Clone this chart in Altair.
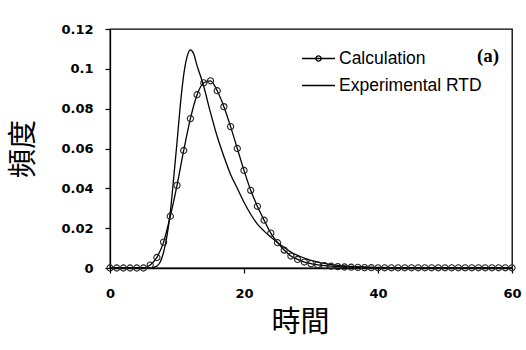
import altair as alt
import pandas as pd

# Calculation (markers every 1 time unit)
calc_t = list(range(0, 61))
calc_v = [0, 0, 0, 0, 0, 0, 0.0015, 0.0053, 0.013, 0.026, 0.0415, 0.059, 0.075, 0.087, 0.093, 0.094,
          0.089, 0.081, 0.071, 0.060, 0.049, 0.039, 0.031, 0.024, 0.0175, 0.0127, 0.009, 0.006, 0.0043,
          0.003, 0.0022, 0.0016, 0.0012, 0.0009, 0.0007, 0.0005, 0.0004, 0.0003, 0.0002, 0.00015,
          0.0001, 0.0001, 0.0001, 0.0001, 0.0001, 0.0001, 0.0001, 0.0001, 0.0001, 0.0001, 0.0001,
          0.0001, 0.0001, 0.0001, 0.0001, 0.0001, 0.0001, 0.0001, 0.0001, 0.0001, 0.0001]

# Experimental RTD (smooth curve)
exp_t = [0, 6, 6.5, 7, 7.5, 8, 8.5, 9, 9.5, 10, 10.5, 11, 11.5, 12, 12.5, 13, 13.5, 14, 15, 16, 17,
         18, 19, 20, 21, 22, 23, 24, 25, 26, 27, 28, 29, 30, 31, 32, 33, 34, 35, 36, 38, 40, 45, 50, 60]
exp_v = [0, 0, 0.0003, 0.001, 0.003, 0.008, 0.016, 0.028, 0.045, 0.063, 0.082, 0.097, 0.106, 0.1095,
         0.1075, 0.1015, 0.0965, 0.091, 0.078, 0.066, 0.056, 0.047, 0.040, 0.033, 0.027, 0.022, 0.0185,
         0.0155, 0.0128, 0.0103, 0.008, 0.0063, 0.005, 0.0038, 0.003, 0.0023, 0.0017, 0.0013, 0.001,
         0.0008, 0.0005, 0.0003, 0.0001, 0.00005, 0]

series_names = ["Calculation", "Experimental RTD"]
y_ticks = [0, 0.02, 0.04, 0.06, 0.08, 0.1, 0.12]
x_ticks = [0, 20, 40, 60]

df = pd.concat([
    pd.DataFrame({"series": series_names[0], "t": calc_t, "v": calc_v}),
    pd.DataFrame({"series": series_names[1], "t": exp_t, "v": exp_v}),
])

x = alt.X("t:Q", scale=alt.Scale(domain=[0, 60], nice=False),
          axis=alt.Axis(values=x_ticks, tickCount=len(x_ticks) + 2, title="時間", grid=False,
                        tickSize=5, labelPadding=14, labelOverlap=False, labelFlush=False,
                        titlePadding=8, titleX=190))
y = alt.Y("v:Q", scale=alt.Scale(domain=[0, 0.12], nice=False),
          axis=alt.Axis(values=y_ticks, tickCount=len(y_ticks) + 2,
                        labelExpr="format(datum.value, '.2~f')", labelOverlap=False,
                        labelFlush=False, title="頻度", grid=False, tickSize=5, labelPadding=12,
                        titlePadding=22))

lines = alt.Chart(df).mark_line(color="black", strokeWidth=1.3, interpolate="monotone").encode(
    x=x, y=y, detail="series:N")

points = alt.Chart(df).transform_filter(alt.datum.series == "Calculation").mark_point(
    shape="circle", filled=False, color="#222222", size=38, strokeWidth=1.1, opacity=1
).encode(x="t:Q", y="v:Q")

calc_path = "M-1,0H1M0.16,0A0.16,0.16,0,1,1,-0.16,0A0.16,0.16,0,1,1,0.16,0"
exp_path = "M-1,0H1"

legend_layer = alt.Chart(df).transform_filter("false").mark_point(
    filled=False, color="black", size=1089, strokeWidth=1.3
).encode(
    x="t:Q", y="v:Q",
    shape=alt.Shape("series:N",
                    scale=alt.Scale(domain=series_names, range=[calc_path, exp_path]),
                    legend=alt.Legend(title=None, orient="none", legendX=191, legendY=12,
                                      labelFont="Liberation Sans", labelFontSize=17.5,
                                      labelColor="black", labelOffset=3,
                                      symbolSize=1089, symbolStrokeColor="black",
                                      symbolStrokeWidth=1.3, symbolFillColor="transparent",
                                      symbolOpacity=1, rowPadding=1))
)

chart = alt.layer(lines, points, legend_layer).properties(
    width=402, height=239,
    autosize="none",
    padding={"left": 110, "top": 29, "right": 14, "bottom": 82},
    background="white",
    title=alt.TitleParams("(a)", anchor="end", orient="top", dx=-22, dy=56, baseline="middle",
                          font="Liberation Serif", fontSize=19, fontWeight="bold", color="black"),
).configure_view(stroke="black", strokeWidth=1.3).configure_axis(
    domainColor="black", tickColor="black", domainWidth=1.3, tickWidth=1.2,
    labelFont="DejaVu Sans", labelFontSize=13, labelFontWeight="bold", labelColor="black",
    titleFont="Noto Sans CJK TC", titleFontSize=29, titleFontWeight="normal", titleColor="black",
)

chart.save("out.html", embed_options={"renderer": "svg", "actions": False})
